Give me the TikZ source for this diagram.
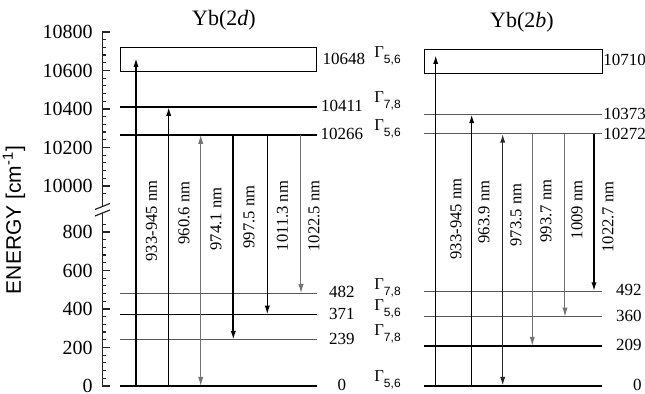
\documentclass[tikz,border=0pt]{standalone}
\usepackage{fontspec}
\setmainfont{Liberation Serif}
\setsansfont{Liberation Sans}
\usetikzlibrary{arrows.meta}

% energy -> vertical position, lower and upper part of the broken axis
\newcommand{\elo}[1]{386-0.1925*(#1)}
\newcommand{\ehi}[1]{186-0.1925*((#1)-10000)}
\newcommand{\gam}[1]{Γ\raisebox{-3pt}{\sffamily\fontsize{6}{6}\selectfont #1}}

\begin{document}
\begin{tikzpicture}[
  x=0.5pt, y=-0.5pt,
  >={Latex[length=4.5pt,width=2.6pt]},
  axis/.style={line width=0.6pt, black!85},
  lvl/.style={line width=0.8pt},
  lvlthin/.style={line width=0.5pt, black!65},
  pump/.style={->, line width=0.8pt},
  emit/.style={->, line width=0.8pt},
  emitthin/.style={->, line width=0.5pt, black!55},
  wl/.style={rotate=90, inner sep=0pt, font=\fontsize{8.3}{9}\selectfont},
  val/.style={inner sep=0pt, font=\fontsize{8.5}{9}\selectfont},
  gm/.style={inner sep=0pt, anchor=base west, font=\fontsize{8.3}{9}\selectfont},
  ticklbl/.style={inner sep=0pt, anchor=east, font=\fontsize{10}{11}\selectfont},
  title/.style={inner sep=0pt, font=\fontsize{11}{12}\selectfont}
]
  \useasboundingbox (0,0) rectangle (645,394);

  % axis with break
  \draw[axis] (102.5,{\ehi{10800}}) -- (102.5,206);
  \draw[axis] (102.5,213) -- (102.5,{\elo{0}});
  \draw[axis] (95,209.5) -- (110,203.5);
  \draw[axis] (95,216) -- (110,210);
  \foreach \e in {0,40,...,840}
    \draw[axis] (102.5,{\elo{\e}}) -- ++(4,0);
  \foreach \e in {9960,10000,...,10800}
    \draw[axis] (102.5,{\ehi{\e}}) -- ++(4,0);
  \foreach \e in {0,200,...,800}{
    \draw[axis] (102.5,{\elo{\e}}) -- ++(8,0);
    \node[ticklbl] (t\e) at (93,{\elo{\e}}) {\e};
  }
  \foreach \e in {10000,10200,...,10800}{
    \draw[axis] (102.5,{\ehi{\e}}) -- ++(8,0);
    \node[ticklbl] (t\e) at (93,{\ehi{\e}}) {\e};
  }
  \node[rotate=90, inner sep=0pt, font=\sffamily\fontsize{10.5}{12}\selectfont]
    (ylab) at (14,220) {ENERGY [cm\textsuperscript{-1}]};

  % Yb(2d)
  \node[title] (t2d) at (224,20) {Yb(2\textit{d})};
  \foreach \e/\s in {0/lvl,239/lvlthin,371/lvl,482/lvlthin}{
    \coordinate (d\e) at (120,{\elo{\e}});
    \draw[\s] (d\e) -- ++(197,0);
    \node[val] (vd\e) at (342,{\elo{\e}-1}) {\e};
  }
  \foreach \e in {10266,10411}{
    \coordinate (d\e) at (120,{\ehi{\e}});
    \draw[lvl] (d\e) -- ++(197,0);
    \node[val] (vd\e) at (342,{\ehi{\e}-1}) {\e};
  }
  \draw[line width=0.45pt] (120,47) rectangle (316,71);
  \coordinate (dtop) at (120,58);
  \node[val] (vd10648) at (344,59) {10648};

  \foreach \e/\g in {0/{5,6},239/{7,8},371/{5,6},482/{7,8}}
    \node[gm] (g\e) at (374,{\elo{\e}-4}) {\gam{\g}};
  \foreach \e/\g in {10266/{5,6},10411/{7,8},10648/{5,6}}
    \node[gm] (g\e) at (374,{\ehi{\e}-4}) {\gam{\g}};

  \coordinate (a1) at (136,0);
  \coordinate (a2) at (168.7,0);
  \coordinate (a3) at (200.7,0);
  \coordinate (a4) at (233.3,0);
  \coordinate (a5) at (267.3,0);
  \coordinate (a6) at (301,0);

  \draw[pump] (a1 |- d0) -- (a1 |- dtop);
  \draw[pump] (a2 |- d0) -- (a2 |- d10411);
  \draw[emitthin, <->] (a3 |- d0) -- (a3 |- d10266);
  \draw[emit] (a4 |- d10266) -- (a4 |- d239);
  \draw[emit, line width=0.65pt] (a5 |- d10266) -- (a5 |- d371);
  \draw[emitthin] (a6 |- d10266) -- (a6 |- d482);

  \node[wl] (w1) at (151.5,221) {933-945 nm};
  \node[wl] (w2) at (184,213) {960.6 nm};
  \node[wl] (w3) at (216,219) {974.1 nm};
  \node[wl] (w4) at (249,217) {997.5 nm};
  \node[wl] (w5) at (282.5,216) {1011.3 nm};
  \node[wl] (w6) at (314,216) {1022.5 nm};

  % Yb(2b)
  \node[title] (t2b) at (522,22) {Yb(2\textit{b})};
  \foreach \e/\s in {0/lvl,209/lvl,360/lvlthin,492/lvlthin}{
    \coordinate (b\e) at (424,{\elo{\e}});
    \draw[\s] (b\e) -- ++(178,0);
    \node[val, anchor=east] (vb\e) at (642,{\elo{\e}-1}) {\e};
  }
  \foreach \e in {10272,10373}{
    \coordinate (b\e) at (424,{\ehi{\e}});
    \draw[lvlthin] (b\e) -- ++(178,0);
    \node[val, anchor=west] (vb\e) at (603,{\ehi{\e}}) {\e};
  }
  \draw[line width=0.45pt] (424,49) rectangle (602,73);
  \coordinate (btop) at (424,55);
  \node[val, anchor=west] (vb10710) at (603,60) {10710};

  \coordinate (c1) at (435.7,0);
  \coordinate (c2) at (471.7,0);
  \coordinate (c3) at (502.7,0);
  \coordinate (c4) at (532.3,0);
  \coordinate (c5) at (565,0);
  \coordinate (c6) at (594,0);

  \draw[pump] (c1 |- b0) -- (c1 |- btop);
  \draw[pump] (c2 |- b0) -- (c2 |- b10373);
  \draw[emit, <->, black!85] (c3 |- b0) -- (c3 |- b10272);
  \draw[emitthin] (c4 |- b10272) -- (c4 |- b209);
  \draw[emitthin] (c5 |- b10272) -- (c5 |- b360);
  \draw[emit] (c6 |- b10272) -- (c6 |- b492);

  \node[wl] (x1) at (456,219) {933-945 nm};
  \node[wl] (x2) at (484,212) {963.9 nm};
  \node[wl] (x3) at (516,215) {973.5 nm};
  \node[wl] (x4) at (546,211) {993.7 nm};
  \node[wl] (x5) at (577,210) {1009 nm};
  \node[wl] (x6) at (608,217) {1022.7 nm};
\end{tikzpicture}
\end{document}
